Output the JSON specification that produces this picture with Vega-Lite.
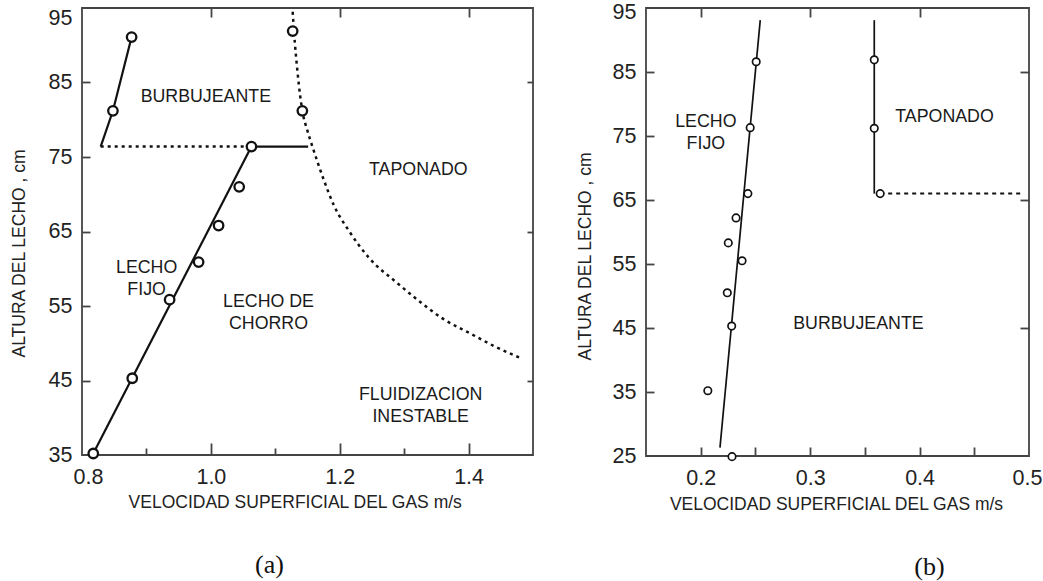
{
  "$schema": "https://vega.github.io/schema/vega-lite/v6.json",
  "padding": {"left": 9, "top": 0, "right": 3, "bottom": 3},
  "background": "white",
  "datasets": {
    "a_solid": [
      {"seg": "s1", "i": 1, "x": 0.8175, "y": 35.2},
      {"seg": "s1", "i": 2, "x": 1.063, "y": 76.4},
      {"seg": "s2", "i": 1, "x": 0.829, "y": 76.4},
      {"seg": "s2", "i": 2, "x": 0.848, "y": 81.2},
      {"seg": "s2", "i": 3, "x": 0.877, "y": 91.1},
      {"seg": "s3", "i": 1, "x": 1.063, "y": 76.4},
      {"seg": "s3", "i": 2, "x": 1.151, "y": 76.4}
    ],
    "a_hdot": [
      {"seg": "h", "i": 1, "x": 0.829, "y": 76.4},
      {"seg": "h", "i": 2, "x": 1.063, "y": 76.4}
    ],
    "a_curve": [
      {"seg": "c", "i": 1, "x": 1.127, "y": 94.5},
      {"seg": "c", "i": 2, "x": 1.129, "y": 91.9},
      {"seg": "c", "i": 3, "x": 1.135, "y": 86.0},
      {"seg": "c", "i": 4, "x": 1.142, "y": 81.2},
      {"seg": "c", "i": 5, "x": 1.150, "y": 78.5},
      {"seg": "c", "i": 6, "x": 1.158, "y": 76.3},
      {"seg": "c", "i": 7, "x": 1.175, "y": 72.0},
      {"seg": "c", "i": 8, "x": 1.191, "y": 68.5},
      {"seg": "c", "i": 9, "x": 1.215, "y": 65.0},
      {"seg": "c", "i": 10, "x": 1.245, "y": 61.5},
      {"seg": "c", "i": 11, "x": 1.289, "y": 58.1},
      {"seg": "c", "i": 12, "x": 1.3256, "y": 55.5},
      {"seg": "c", "i": 13, "x": 1.360, "y": 53.3},
      {"seg": "c", "i": 14, "x": 1.403, "y": 51.3},
      {"seg": "c", "i": 15, "x": 1.440, "y": 49.6},
      {"seg": "c", "i": 16, "x": 1.481, "y": 48.0}
    ],
    "a_pts": [
      {"x": 0.8175, "y": 35.2},
      {"x": 0.878, "y": 45.3},
      {"x": 0.936, "y": 55.85},
      {"x": 0.981, "y": 60.9},
      {"x": 1.012, "y": 65.8},
      {"x": 1.044, "y": 71.0},
      {"x": 1.063, "y": 76.4},
      {"x": 0.848, "y": 81.2},
      {"x": 0.877, "y": 91.1},
      {"x": 1.127, "y": 91.9},
      {"x": 1.142, "y": 81.2}
    ],
    "a_text": [
      {"x": 0.9922, "y": 83.1, "t": "BURBUJEANTE"},
      {"x": 1.322, "y": 73.2, "t": "TAPONADO"},
      {"x": 0.9003, "y": 60.1, "t": "LECHO\nFIJO"},
      {"x": 1.0895, "y": 55.5, "t": "LECHO DE\nCHORRO"},
      {"x": 1.3256, "y": 43.0, "t": "FLUIDIZACION\nINESTABLE"}
    ],
    "b_solid": [
      {"seg": "s1", "i": 1, "x": 0.2176, "y": 26.3},
      {"seg": "s1", "i": 2, "x": 0.2544, "y": 93.1},
      {"seg": "s2", "i": 1, "x": 0.3586, "y": 93.1},
      {"seg": "s2", "i": 2, "x": 0.3586, "y": 66.0}
    ],
    "b_dash": [
      {"seg": "d1", "i": 1, "x": 0.364, "y": 66.0},
      {"seg": "d1", "i": 2, "x": 0.4925, "y": 66.0}
    ],
    "b_pts": [
      {"x": 0.2507, "y": 86.6},
      {"x": 0.2452, "y": 76.3},
      {"x": 0.2431, "y": 66.0},
      {"x": 0.2323, "y": 62.2},
      {"x": 0.2252, "y": 58.3},
      {"x": 0.2378, "y": 55.5},
      {"x": 0.2243, "y": 50.5},
      {"x": 0.2283, "y": 45.3},
      {"x": 0.2065, "y": 35.2},
      {"x": 0.2286, "y": 24.9},
      {"x": 0.3586, "y": 86.9},
      {"x": 0.3586, "y": 76.2},
      {"x": 0.364, "y": 66.0}
    ],
    "b_text": [
      {"x": 0.2047, "y": 77.2, "t": "LECHO\nFIJO"},
      {"x": 0.4228, "y": 77.9, "t": "TAPONADO"},
      {"x": 0.3441, "y": 45.6, "t": "BURBUJEANTE"}
    ]
  },
  "hconcat": [
    {
      "width": 451,
      "height": 447,
      "title": {"text": "(a)", "orient": "bottom", "font": "Liberation Serif", "fontSize": 26, "fontWeight": "normal", "color": "#111", "offset": 41, "dx": -38, "anchor": "middle", "frame": "group"},
      "resolve": {"axis": {"x": "independent", "y": "independent"}},
      "layer": [
        {
          "data": {"name": "a_solid"},
          "mark": {"type": "line", "color": "#111", "strokeWidth": 2.2},
          "encoding": {
            "x": {"field": "x", "type": "quantitative", "scale": {"domain": [0.8, 1.5], "nice": false, "zero": false},
              "axis": {"orient": "bottom", "values": [0.9, 1.0, 1.1, 1.2, 1.3, 1.4], "labels": false, "title": null, "domain": false,
                "tickSize": {"condition": {"test": "round(datum.value*10)%2==1", "value": -7}, "value": -12}}},
            "y": {"field": "y", "type": "quantitative", "scale": {"domain": [35, 95], "nice": false, "zero": false},
              "axis": {"orient": "left", "values": [45, 55, 65, 75, 85], "labels": false, "title": null, "domain": false, "tickSize": -8}},
            "detail": {"field": "seg"},
            "order": {"field": "i"}
          }
        },
        {
          "data": {"name": "a_hdot"},
          "mark": {"type": "line", "color": "#111", "strokeWidth": 2.5, "strokeDash": [3, 4]},
          "encoding": {
            "x": {"field": "x", "type": "quantitative", "scale": {"domain": [0.8, 1.5], "nice": false, "zero": false},
              "axis": {"orient": "top", "values": [1.0, 1.2, 1.4], "labels": false, "title": null, "domain": false, "tickSize": -9}},
            "y": {"field": "y", "type": "quantitative", "scale": {"domain": [35, 95], "nice": false, "zero": false},
              "axis": {"orient": "right", "values": [45, 65, 85], "labels": false, "title": null, "domain": false, "tickSize": -6}},
            "detail": {"field": "seg"},
            "order": {"field": "i"}
          }
        },
        {
          "data": {"name": "a_curve"},
          "mark": {"type": "line", "color": "#111", "strokeWidth": 2.5, "strokeDash": [3, 4], "interpolate": "monotone"},
          "encoding": {
            "x": {"field": "x", "type": "quantitative", "scale": {"domain": [0.8, 1.5], "nice": false, "zero": false}, "axis": null},
            "y": {"field": "y", "type": "quantitative", "scale": {"domain": [35, 95], "nice": false, "zero": false}, "axis": null},
            "order": {"field": "i"}
          }
        },
        {
          "data": {"name": "a_pts"},
          "mark": {"type": "point", "shape": "circle", "filled": true, "fill": "white", "stroke": "#111", "strokeWidth": 2.3, "size": 90, "opacity": 1},
          "encoding": {
            "x": {"field": "x", "type": "quantitative", "scale": {"domain": [0.8, 1.5], "nice": false, "zero": false},
              "axis": {"orient": "bottom", "values": [0.8, 1.0, 1.2, 1.4], "format": ".1f", "ticks": false, "domain": false, "labelFlush": false, "labelPadding": 11,
                "labelOffset": {"condition": {"test": "datum.value < 0.85", "value": 6}, "value": 0},
                "title": "VELOCIDAD SUPERFICIAL DEL GAS m/s", "titleX": 212.7, "titleY": 52.3, "titleBaseline": "alphabetic"}},
            "y": {"field": "y", "type": "quantitative", "scale": {"domain": [35, 95], "nice": false, "zero": false},
              "axis": {"orient": "left", "values": [35, 45, 55, 65, 75, 85, 95], "ticks": false, "domain": false, "labelPadding": 10,
                "labelOffset": {"condition": {"test": "datum.value > 90", "value": 10}, "value": 0},
                "title": "ALTURA DEL LECHO , cm", "titleX": -57.7, "titleY": 245, "titleAngle": 270, "titleBaseline": "alphabetic"}}
          }
        },
        {
          "data": {"name": "a_text"},
          "mark": {"type": "text", "fontSize": 17.8, "lineBreak": "\n", "lineHeight": 21.7, "color": "#1a1a1a", "baseline": "middle", "align": "center"},
          "encoding": {
            "x": {"field": "x", "type": "quantitative", "scale": {"domain": [0.8, 1.5], "nice": false, "zero": false}, "axis": null},
            "y": {"field": "y", "type": "quantitative", "scale": {"domain": [35, 95], "nice": false, "zero": false}, "axis": null},
            "text": {"field": "t"}
          }
        }
      ]
    },
    {
      "width": 383,
      "height": 448,
      "title": {"text": "(b)", "orient": "bottom", "font": "Liberation Serif", "fontSize": 26, "fontWeight": "normal", "color": "#111", "offset": 41, "dx": 92, "anchor": "middle", "frame": "group"},
      "resolve": {"axis": {"x": "independent", "y": "independent"}},
      "layer": [
        {
          "data": {"name": "b_solid"},
          "mark": {"type": "line", "color": "#111", "strokeWidth": 1.7},
          "encoding": {
            "x": {"field": "x", "type": "quantitative", "scale": {"domain": [0.15, 0.5], "nice": false, "zero": false},
              "axis": {"orient": "bottom", "values": [0.2, 0.25, 0.3, 0.35, 0.4, 0.45], "labels": false, "title": null, "domain": false, "tickSize": -9}},
            "y": {"field": "y", "type": "quantitative", "scale": {"domain": [25, 95], "nice": false, "zero": false},
              "axis": {"orient": "left", "values": [35, 45, 55, 65, 75, 85], "labels": false, "title": null, "domain": false, "tickSize": -8}},
            "detail": {"field": "seg"},
            "order": {"field": "i"}
          }
        },
        {
          "data": {"name": "b_dash"},
          "mark": {"type": "line", "color": "#111", "strokeWidth": 2, "strokeDash": [4, 4]},
          "encoding": {
            "x": {"field": "x", "type": "quantitative", "scale": {"domain": [0.15, 0.5], "nice": false, "zero": false},
              "axis": {"orient": "top", "values": [0.2, 0.3, 0.4], "labels": false, "title": null, "domain": false, "tickSize": -9}},
            "y": {"field": "y", "type": "quantitative", "scale": {"domain": [25, 95], "nice": false, "zero": false},
              "axis": {"orient": "right", "values": [45, 65, 85], "labels": false, "title": null, "domain": false, "tickSize": -9}},
            "detail": {"field": "seg"},
            "order": {"field": "i"}
          }
        },
        {
          "data": {"name": "b_pts"},
          "mark": {"type": "point", "shape": "circle", "filled": true, "fill": "white", "stroke": "#111", "strokeWidth": 1.7, "size": 55, "opacity": 1},
          "encoding": {
            "x": {"field": "x", "type": "quantitative", "scale": {"domain": [0.15, 0.5], "nice": false, "zero": false},
              "axis": {"orient": "bottom", "values": [0.2, 0.3, 0.4, 0.5], "format": ".1f", "ticks": false, "domain": false, "labelFlush": false, "labelPadding": 11,
                "labelOffset": {"condition": {"test": "datum.value > 0.48", "value": -2}, "value": 0},
                "title": "VELOCIDAD SUPERFICIAL DEL GAS m/s", "titleX": 190, "titleY": 53, "titleBaseline": "alphabetic"}},
            "y": {"field": "y", "type": "quantitative", "scale": {"domain": [25, 95], "nice": false, "zero": false},
              "axis": {"orient": "left", "values": [25, 35, 45, 55, 65, 75, 85, 95], "ticks": false, "domain": false, "labelPadding": 10,
                "labelOffset": {"condition": {"test": "datum.value > 90", "value": 4}, "value": 0},
                "title": "ALTURA DEL LECHO , cm", "titleX": -55.7, "titleY": 248, "titleAngle": 270, "titleBaseline": "alphabetic"}}
          }
        },
        {
          "data": {"name": "b_text"},
          "mark": {"type": "text", "fontSize": 17.8, "lineBreak": "\n", "lineHeight": 21.7, "color": "#1a1a1a", "baseline": "middle", "align": "center"},
          "encoding": {
            "x": {"field": "x", "type": "quantitative", "scale": {"domain": [0.15, 0.5], "nice": false, "zero": false}, "axis": null},
            "y": {"field": "y", "type": "quantitative", "scale": {"domain": [25, 95], "nice": false, "zero": false}, "axis": null},
            "text": {"field": "t"}
          }
        }
      ]
    }
  ],
  "config": {
    "font": "Liberation Sans",
    "view": {"stroke": "#444", "strokeWidth": 1.8},
    "concat": {"spacing": 40},
    "axis": {
      "grid": false,
      "labelFont": "Liberation Sans",
      "titleFont": "Liberation Sans",
      "labelFontSize": 21.5,
      "titleFontSize": 17.5,
      "titleFontWeight": "normal",
      "labelColor": "#222",
      "titleColor": "#222",
      "tickColor": "#444",
      "tickWidth": 1.8
    }
  }
}
